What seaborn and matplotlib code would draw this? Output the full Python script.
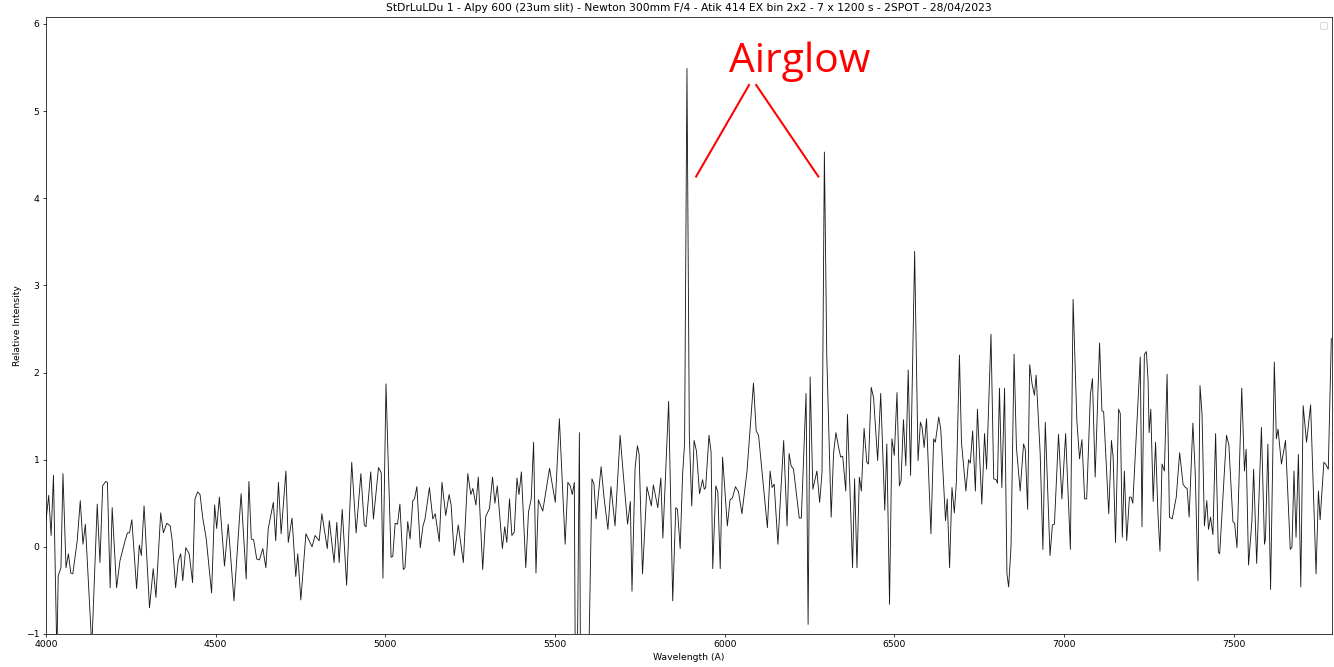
import matplotlib
matplotlib.use("Agg")
import matplotlib.pyplot as plt
import seaborn as sns
import pandas as pd

TITLE = "StDrLuLDu 1 - Alpy 600 (23um slit) - Newton 300mm F/4 - Atik 414 EX bin 2x2 - 7 x 1200 s - 2SPOT - 28/04/2023"
XLABEL = "Wavelength (A)"
YLABEL = "Relative Intensity"
X_TICKS = [4000, 4500, 5000, 5500, 6000, 6500, 7000, 7500]
Y_TICKS = [-1, 0, 1, 2, 3, 4, 5, 6]

# (wavelength [A], relative intensity), in segments
seg_4000 = [(4000, 0.30), (4008, 0.59), (4015, 0.13), (4022, 0.82), (4032, -1.25), (4036, -0.33), (4044, -0.24),
            (4050, 0.84), (4059, -0.24), (4066, -0.08), (4073, -0.30), (4079, -0.31), (4092, 0.07), (4101, 0.53),
            (4109, 0.03), (4116, 0.26), (4135, -1.15), (4151, 0.49), (4159, -0.18), (4167, 0.70), (4176, 0.75),
            (4181, 0.74), (4189, -0.47), (4195, 0.45), (4208, -0.47), (4218, -0.16), (4233, 0.07), (4240, 0.16),
            (4246, 0.16), (4253, 0.31), (4267, -0.48), (4275, 0.02), (4281, -0.10), (4289, 0.47), (4305, -0.70)]
seg_4300 = [(4316, -0.25), (4324, -0.58), (4338, 0.39), (4346, 0.16), (4356, 0.27), (4366, 0.24), (4372, 0.07),
            (4382, -0.47), (4390, -0.16), (4397, -0.08), (4403, -0.39), (4412, -0.01), (4422, -0.08), (4432, -0.41),
            (4439, 0.55), (4447, 0.63), (4454, 0.60), (4462, 0.33), (4472, 0.10), (4488, -0.53), (4497, 0.48),
            (4503, 0.21), (4511, 0.57), (4526, -0.22), (4537, 0.26), (4554, -0.62), (4575, 0.61), (4590, -0.37),
            (4598, 0.75), (4605, 0.09), (4612, 0.08)]
seg_4600 = [(4621, -0.14), (4629, -0.15), (4639, -0.02), (4648, -0.24), (4655, 0.21), (4670, 0.51), (4677, 0.07),
            (4685, 0.74), (4693, 0.15), (4707, 0.87), (4714, 0.05), (4725, 0.33), (4736, -0.34), (4742, -0.08),
            (4751, -0.61), (4766, 0.15), (4784, 0.00), (4793, 0.13), (4805, 0.07), (4813, 0.38), (4829, -0.02),
            (4835, 0.30), (4849, -0.18), (4857, 0.28), (4864, -0.18), (4873, 0.43), (4886, -0.44), (4901, 0.97),
            (4914, 0.16), (4928, 0.84)]
seg_4900 = [(4938, 0.25), (4943, 0.23), (4957, 0.86), (4965, 0.32), (4980, 0.91), (4988, 0.85), (4993, -0.36),
            (5002, 1.87), (5009, 0.90), (5017, -0.12), (5022, -0.11), (5029, 0.27), (5036, 0.26), (5043, 0.49),
            (5053, -0.26), (5058, -0.24), (5066, 0.29), (5073, 0.09), (5081, 0.53), (5086, 0.55), (5093, 0.69),
            (5103, -0.01), (5111, 0.24), (5117, 0.32), (5130, 0.68), (5140, 0.32), (5147, 0.38), (5159, 0.06),
            (5167, 0.74), (5178, 0.36), (5188, 0.60), (5194, 0.48), (5203, -0.10), (5215, 0.25), (5230, -0.18)]
seg_5200 = [(5243, 0.84), (5252, 0.60), (5258, 0.67), (5267, 0.48), (5274, 0.80), (5287, -0.26), (5296, 0.35),
            (5307, 0.44), (5316, 0.80), (5323, 0.50), (5330, 0.70), (5345, -0.02), (5352, 0.23), (5358, 0.05),
            (5366, 0.55), (5373, 0.13), (5380, 0.17), (5388, 0.79), (5394, 0.60), (5401, 0.86), (5414, -0.24),
            (5422, 0.40), (5430, 0.55), (5437, 1.20), (5444, -0.30), (5451, 0.54), (5464, 0.41), (5484, 0.90),
            (5501, 0.51), (5513, 1.47), (5530, 0.03), (5538, 0.74)]
seg_5500 = [(5545, 0.70), (5551, 0.60), (5557, 0.74), (5562, -3.0), (5572, 1.31), (5577, -3.0), (5592, -3.0),
            (5609, 0.78), (5615, 0.72), (5621, 0.32), (5636, 0.92), (5645, 0.55), (5656, 0.20), (5665, 0.69),
            (5677, 0.24), (5692, 1.28), (5702, 0.80), (5714, 0.26), (5722, 0.52), (5727, -0.51), (5736, 0.90),
            (5743, 1.16), (5748, 1.06), (5758, -0.31), (5771, 0.69), (5784, 0.47), (5790, 0.71), (5803, 0.45),
            (5812, 0.79), (5818, 0.10), (5835, 1.67), (5847, -0.62)]
seg_5850 = [(5856, 0.45), (5861, 0.43), (5869, -0.02), (5876, 0.82), (5882, 1.19), (5889, 5.49), (5896, 1.28),
            (5903, 0.47), (5910, 1.22), (5917, 1.10), (5926, 0.61), (5935, 0.77), (5940, 0.66), (5944, 0.68),
            (5954, 1.28), (5960, 1.09), (5965, -0.25), (5974, 0.70), (5980, 0.63), (5987, -0.25), (5994, 1.03),
            (6008, 0.24), (6016, 0.54), (6023, 0.56), (6032, 0.69), (6041, 0.63), (6051, 0.38), (6066, 0.87),
            (6085, 1.88), (6093, 1.33), (6100, 1.28), (6126, 0.22), (6134, 0.87), (6140, 0.68), (6146, 0.72),
            (6157, 0.03)]
seg_6150 = [(6174, 1.22), (6184, 0.24), (6190, 1.07), (6196, 0.93), (6203, 0.89), (6220, 0.33), (6226, 0.33),
            (6240, 1.76), (6246, -0.89), (6252, 1.95), (6260, 0.66), (6272, 0.87), (6280, 0.51), (6287, 0.85),
            (6294, 4.53), (6301, 2.20), (6314, 0.34), (6321, 1.07), (6328, 1.31), (6336, 1.14), (6342, 1.03),
            (6348, 1.04), (6357, 0.64), (6362, 1.52), (6377, -0.24), (6383, 0.78), (6390, -0.24), (6397, 0.80),
            (6403, 0.64), (6411, 1.36), (6419, 0.97), (6424, 0.95), (6432, 1.83), (6439, 1.71), (6451, 0.99),
            (6460, 1.76), (6472, 0.42)]
seg_6450 = [(6478, 1.18), (6486, -0.66), (6493, 1.24), (6500, 1.05), (6508, 1.77), (6515, 0.70), (6520, 0.76),
            (6527, 1.46), (6534, 0.93), (6541, 2.03), (6548, 0.82), (6560, 3.39), (6570, 0.99), (6577, 1.43),
            (6582, 1.37), (6588, 1.14), (6595, 1.47), (6608, 0.15), (6616, 1.24), (6621, 1.20), (6631, 1.49),
            (6637, 1.35), (6651, 0.30), (6656, 0.55), (6663, -0.24), (6670, 0.68), (6677, 0.39), (6683, 0.75),
            (6692, 2.20), (6698, 1.20), (6711, 0.64), (6719, 1.00), (6724, 0.96), (6731, 1.33), (6739, 0.64),
            (6745, 1.58), (6758, 0.49), (6766, 1.30), (6772, 0.89)]
seg_6780 = [(6785, 2.44), (6793, 0.78), (6800, 0.77), (6804, 0.73), (6810, 1.82), (6817, 0.68), (6825, 1.82),
            (6832, -0.31), (6837, -0.46), (6844, 0.00), (6853, 2.21), (6860, 1.14), (6871, 0.64), (6881, 1.18),
            (6886, 1.12), (6893, 0.43), (6899, 2.09), (6906, 1.87), (6913, 1.74), (6918, 1.97), (6930, 1.07),
            (6938, -0.03), (6945, 1.43), (6959, -0.10), (6966, 0.25), (6972, 0.26), (6984, 1.29), (6994, 0.55),
            (7005, 1.30), (7019, -0.03), (7027, 2.84), (7038, 1.45), (7046, 1.01), (7053, 1.23), (7061, 0.55),
            (7067, 0.55), (7078, 1.75), (7084, 1.93)]
seg_7090 = [(7092, 0.80), (7105, 2.34), (7112, 1.56), (7117, 1.55), (7132, 0.38), (7140, 1.22), (7145, 1.03),
            (7152, 0.05), (7161, 1.58), (7166, 1.53), (7172, 0.11), (7178, 0.87), (7185, 0.07), (7193, 0.57),
            (7198, 0.57), (7203, 0.50), (7225, 2.18), (7230, 0.23), (7237, 2.21), (7243, 2.24), (7248, 1.90),
            (7251, 1.31), (7256, 1.58), (7263, 0.52), (7270, 1.20), (7277, 0.38), (7283, -0.05), (7289, 0.95),
            (7296, 0.87), (7304, 1.98), (7311, 0.34), (7319, 0.32), (7331, 0.57), (7341, 1.08), (7351, 0.72),
            (7358, 0.68), (7363, 0.67), (7369, 0.34), (7380, 1.42), (7387, 0.84), (7395, -0.39), (7401, 1.85)]
seg_7400 = [(7407, 1.52), (7414, 0.24), (7421, 0.53), (7426, 0.20), (7432, 0.34), (7439, 0.14), (7447, 1.30),
            (7455, -0.06), (7459, -0.08), (7479, 1.28), (7486, 1.17), (7498, 0.29), (7503, 0.27), (7510, -0.01),
            (7524, 1.82), (7532, 0.87), (7537, 1.12), (7544, -0.21), (7554, 0.30), (7559, 0.89), (7568, -0.19),
            (7582, 1.37), (7591, 0.03), (7594, 0.09), (7601, 1.18), (7609, -0.49), (7620, 2.12), (7626, 1.24),
            (7631, 1.35), (7641, 0.95), (7653, 1.22), (7667, -0.03), (7672, 0.00), (7678, 0.87), (7684, 0.11),
            (7691, 1.06), (7698, -0.46), (7705, 1.62), (7715, 1.20), (7727, 1.63), (7743, -0.31), (7750, 0.64),
            (7755, 0.31), (7766, 0.97), (7771, 0.95), (7779, 0.89), (7788, 2.39)]

segments = [seg_4000, seg_4300, seg_4600, seg_4900, seg_5200, seg_5500, seg_5850,
            seg_6150, seg_6450, seg_6780, seg_7090, seg_7400]

# Annotation (text and pointer lines) in data units
AIRGLOW_TEXT = "Airglow"
AIRGLOW_POS = (6220, 5.45)
AIRGLOW_LINE_1 = ([6072, 5916], [5.30, 4.25])
AIRGLOW_LINE_2 = ([6093, 6276], [5.30, 4.25])

rows = [p for seg in segments for p in seg]
df = pd.DataFrame(rows, columns=["wavelength", "intensity"])

fig = plt.figure(figsize=(20, 10), dpi=66.7)
ax = fig.add_axes([46 / 1334, 33 / 666, 1286 / 1334, 616 / 666])

sns.lineplot(data=df, x="wavelength", y="intensity", color="#1a1a1a", linewidth=0.95,
             estimator=None, sort=False, ax=ax)

ax.set_xlim(4000, 7790)
ax.set_ylim(-1, 6.08)
ax.set_xticks(X_TICKS)
ax.set_yticks(Y_TICKS)
ax.set_xlabel(XLABEL, fontsize=10)
ax.set_ylabel(YLABEL, fontsize=10)
ax.set_title(TITLE, fontsize=11.6)
ax.tick_params(labelsize=10)

ax.plot(*AIRGLOW_LINE_1, color="red", linewidth=2.2)
ax.plot(*AIRGLOW_LINE_2, color="red", linewidth=2.2)
ax.text(AIRGLOW_POS[0], AIRGLOW_POS[1], AIRGLOW_TEXT, color="red", fontsize=44,
        ha="center", va="baseline", family="Open Sans")

ax.legend(handles=[], loc="upper right")

fig.savefig("out.png", dpi=66.7)
